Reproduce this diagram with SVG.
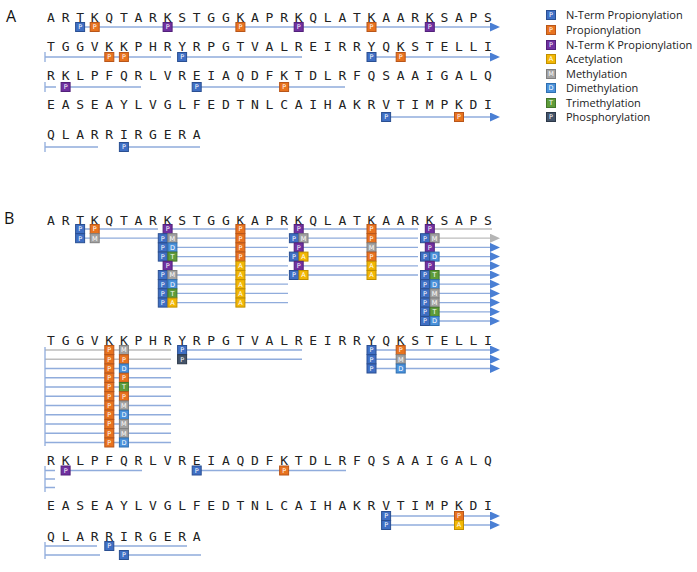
<svg xmlns="http://www.w3.org/2000/svg" xmlns:xlink="http://www.w3.org/1999/xlink" width="697" height="572" viewBox="0 0 697 572">
<style>
.seq{font-family:"DejaVu Sans Mono",monospace;font-size:13px;fill:#222;letter-spacing:6.74px}
.lbl{font-family:"Open Sans","DejaVu Sans",sans-serif;font-size:16px;fill:#111}
.leg{font-family:"Open Sans","DejaVu Sans",sans-serif;font-size:11px;fill:#222}
.bt{font-family:"DejaVu Sans",sans-serif;font-size:6.5px;fill:#fff;text-anchor:middle}
.ln{stroke:#90acdc;stroke-width:1.3;fill:none}
.lg{stroke:#bdbdbd;stroke-width:1.3;fill:none}
.ar{marker-end:url(#ab)}
.ag{marker-end:url(#ag)}
</style>
<defs>
<marker id="ab" markerUnits="userSpaceOnUse" markerWidth="10" markerHeight="9" refX="2" refY="4.5" orient="auto"><path d="M0,0 L10,4.5 L0,9 z" fill="#4a7fd4"/></marker>
<marker id="ag" markerUnits="userSpaceOnUse" markerWidth="10" markerHeight="9" refX="2" refY="4.5" orient="auto"><path d="M0,0 L10,4.5 L0,9 z" fill="#b5b5b5"/></marker>
<g id="nP"><rect x="-4.5" y="-4.5" width="9" height="9" fill="#3f6fc4" stroke="#2a4f92"/><text class="bt" y="2.4">P</text></g>
<g id="oP"><rect x="-4.5" y="-4.5" width="9" height="9" fill="#e8731f" stroke="#b8561a"/><text class="bt" y="2.4">P</text></g>
<g id="kP"><rect x="-4.5" y="-4.5" width="9" height="9" fill="#7030a0" stroke="#52207a"/><text class="bt" y="2.4">P</text></g>
<g id="aA"><rect x="-4.5" y="-4.5" width="9" height="9" fill="#f2b705" stroke="#c08f00"/><text class="bt" y="2.4">A</text></g>
<g id="mM"><rect x="-4.5" y="-4.5" width="9" height="9" fill="#a3a3a3" stroke="#7f7f7f"/><text class="bt" y="2.4">M</text></g>
<g id="dD"><rect x="-4.5" y="-4.5" width="9" height="9" fill="#4b92db" stroke="#2f6fb0"/><text class="bt" y="2.4">D</text></g>
<g id="tT"><rect x="-4.5" y="-4.5" width="9" height="9" fill="#5e9c3a" stroke="#42752a"/><text class="bt" y="2.4">T</text></g>
<g id="hP"><rect x="-4.5" y="-4.5" width="9" height="9" fill="#44546a" stroke="#2c3848"/><text class="bt" y="2.4">P</text></g>
</defs>
<rect width="697" height="572" fill="#fff"/>
<text class="lbl" x="6" y="22">A</text>
<text class="lbl" x="4" y="224">B</text>
<g id="legend">
<use href="#nP" x="551" y="15"/><text class="leg" x="566" y="19">N-Term Propionylation</text>
<use href="#oP" x="551" y="30"/><text class="leg" x="566" y="34">Propionylation</text>
<use href="#kP" x="551" y="45"/><text class="leg" x="566" y="49">N-Term K Propionylation</text>
<use href="#aA" x="551" y="59"/><text class="leg" x="566" y="63">Acetylation</text>
<use href="#mM" x="551" y="74"/><text class="leg" x="566" y="78">Methylation</text>
<use href="#dD" x="551" y="88"/><text class="leg" x="566" y="92">Dimethylation</text>
<use href="#tT" x="551" y="103"/><text class="leg" x="566" y="107">Trimethylation</text>
<use href="#hP" x="551" y="117"/><text class="leg" x="566" y="121">Phosphorylation</text>
</g>
<g id="sequences">
<text class="seq" x="47.1" y="22">ARTKQTARKSTGGKAPRKQLATKAARKSAPS</text>
<text class="seq" x="47.1" y="51">TGGVKKPHRYRPGTVALREIRRYQKSTELLI</text>
<text class="seq" x="47.1" y="80">RKLPFQRLVREIAQDFKTDLRFQSAAIGALQ</text>
<text class="seq" x="47.1" y="109">EASEAYLVGLFEDTNLCAIHAKRVTIMPKDI</text>
<text class="seq" x="47.1" y="139">QLARRIRGERA</text>
<text class="seq" x="47.1" y="225">ARTKQTARKSTGGKAPRKQLATKAARKSAPS</text>
<text class="seq" x="47.1" y="345">TGGVKKPHRYRPGTVALREIRRYQKSTELLI</text>
<text class="seq" x="47.1" y="465">RKLPFQRLVREIAQDFKTDLRFQSAAIGALQ</text>
<text class="seq" x="47.1" y="510">EASEAYLVGLFEDTNLCAIHAKRVTIMPKDI</text>
<text class="seq" x="47.1" y="541">QLARRIRGERA</text>
</g>
<g id="connectors">
<path class="ln ar" d="M80,27H492"/>
<path class="ln" d="M45,52V62M45,57H171M182,57H302M45,82V92M45,87H56M65.6,87H141M196.7,87H345M45,142V152M45,147H98M124,147H200"/>
<path class="ln ar" d="M371.5,57H492"/>
<path class="ln ar" d="M386,117H492"/>
<!-- B row1 -->
<path class="ln" d="M80,229H158M80,238.2H158"/>
<path class="ln" d="M167.6,229H288M167.6,238.2H288M167.6,247.4H288M167.6,256.6H288M167.6,265.8H288M167.6,275H288M167.6,284.2H288M167.6,293.4H288M167.6,302.6H288"/>
<path class="ln" d="M298.7,229H418M298.7,238.2H418M298.7,247.4H418M298.7,256.6H418M298.7,265.8H418M298.7,275H418"/>
<path class="lg ag" d="M429.8,229H492M429.8,238.2H492"/>
<path class="ln ar" d="M429.8,247.4H492"/><path class="ln ar" d="M429.8,256.6H492"/><path class="ln ar" d="M429.8,265.8H492"/><path class="ln ar" d="M429.8,275H492"/><path class="ln ar" d="M429.8,284.2H492"/><path class="ln ar" d="M429.8,293.4H492"/><path class="ln ar" d="M429.8,302.6H492"/><path class="ln ar" d="M429.8,311.8H492"/><path class="ln ar" d="M429.8,321H492"/>
<!-- B row2 -->
<path class="lg" d="M45,350H171M45,359.25H171"/>
<path class="ln" d="M45,347V446M45,368.5H171M45,377.75H171M45,387H171M45,396.25H171M45,405.5H171M45,414.75H171M45,424H171M45,433.25H171M45,442.5H171M182,350H302M182,359.25H302"/>
<path class="ln ar" d="M371.5,350H492"/><path class="ln ar" d="M371.5,359.25H492"/><path class="ln ar" d="M371.5,368.5H492"/>
<!-- B row3-5 -->
<path class="ln" d="M45,466V492M45,470.5H55M45,479H55M45,487.5H55M65.6,470.5H142M196.7,470.5H346"/>
<path class="ln ar" d="M386,516H492"/><path class="ln ar" d="M386,525H492"/>
<path class="ln" d="M45,542V559M45,546H97M109,546H187M45,555H100M124,555H201"/>
</g>
<g id="badgesA">
<use href="#nP" x="80.1" y="27"/><use href="#oP" x="94.7" y="27"/><use href="#kP" x="167.6" y="27"/><use href="#oP" x="240.4" y="27"/><use href="#kP" x="298.7" y="27"/><use href="#oP" x="371.5" y="27"/><use href="#kP" x="429.8" y="27"/>
<use href="#oP" x="109.3" y="57"/><use href="#oP" x="123.9" y="57"/><use href="#nP" x="182.1" y="57"/><use href="#nP" x="371.5" y="57"/><use href="#oP" x="400.7" y="57"/>
<use href="#kP" x="65.6" y="87"/><use href="#nP" x="196.7" y="87"/><use href="#oP" x="284.1" y="87"/>
<use href="#nP" x="386.1" y="117"/><use href="#oP" x="459" y="117"/>
<use href="#nP" x="123.9" y="147"/>
</g>
<g id="badgesB1">
<use href="#nP" x="80.1" y="229"/><use href="#oP" x="94.7" y="229"/><use href="#kP" x="167.6" y="229"/><use href="#oP" x="240.4" y="229"/><use href="#kP" x="298.7" y="229"/><use href="#oP" x="371.5" y="229"/><use href="#kP" x="429.8" y="229"/>
<use href="#nP" x="80.1" y="238.2"/><use href="#mM" x="94.7" y="238.2"/><use href="#nP" x="162.8" y="238.2"/><use href="#mM" x="172.4" y="238.2"/><use href="#oP" x="240.4" y="238.2"/><use href="#nP" x="293.9" y="238.2"/><use href="#mM" x="303.5" y="238.2"/><use href="#oP" x="371.5" y="238.2"/><use href="#nP" x="425" y="238.2"/><use href="#mM" x="434.6" y="238.2"/>
<use href="#nP" x="162.8" y="247.4"/><use href="#dD" x="172.4" y="247.4"/><use href="#oP" x="240.4" y="247.4"/><use href="#kP" x="298.7" y="247.4"/><use href="#mM" x="371.5" y="247.4"/><use href="#kP" x="429.8" y="247.4"/>
<use href="#nP" x="162.8" y="256.6"/><use href="#tT" x="172.4" y="256.6"/><use href="#oP" x="240.4" y="256.6"/><use href="#nP" x="293.9" y="256.6"/><use href="#aA" x="303.5" y="256.6"/><use href="#oP" x="371.5" y="256.6"/><use href="#nP" x="425" y="256.6"/><use href="#dD" x="434.6" y="256.6"/>
<use href="#kP" x="167.6" y="265.8"/><use href="#aA" x="240.4" y="265.8"/><use href="#kP" x="298.7" y="265.8"/><use href="#aA" x="371.5" y="265.8"/><use href="#kP" x="429.8" y="265.8"/>
<use href="#nP" x="162.8" y="275"/><use href="#mM" x="172.4" y="275"/><use href="#aA" x="240.4" y="275"/><use href="#nP" x="293.9" y="275"/><use href="#aA" x="303.5" y="275"/><use href="#aA" x="371.5" y="275"/><use href="#nP" x="425" y="275"/><use href="#tT" x="434.6" y="275"/>
<use href="#nP" x="162.8" y="284.2"/><use href="#dD" x="172.4" y="284.2"/><use href="#aA" x="240.4" y="284.2"/><use href="#nP" x="425" y="284.2"/><use href="#dD" x="434.6" y="284.2"/>
<use href="#nP" x="162.8" y="293.4"/><use href="#tT" x="172.4" y="293.4"/><use href="#aA" x="240.4" y="293.4"/><use href="#nP" x="425" y="293.4"/><use href="#mM" x="434.6" y="293.4"/>
<use href="#nP" x="162.8" y="302.6"/><use href="#aA" x="172.4" y="302.6"/><use href="#aA" x="240.4" y="302.6"/><use href="#nP" x="425" y="302.6"/><use href="#mM" x="434.6" y="302.6"/>
<use href="#nP" x="425" y="311.8"/><use href="#tT" x="434.6" y="311.8"/>
<use href="#nP" x="425" y="321"/><use href="#dD" x="434.6" y="321"/>
</g>
<g id="badgesB2">
<use href="#oP" x="109.3" y="350"/><use href="#mM" x="123.9" y="350"/>
<use href="#oP" x="109.3" y="359.25"/><use href="#oP" x="123.9" y="359.25"/>
<use href="#oP" x="109.3" y="368.5"/><use href="#dD" x="123.9" y="368.5"/>
<use href="#oP" x="109.3" y="377.75"/><use href="#oP" x="123.9" y="377.75"/>
<use href="#oP" x="109.3" y="387"/><use href="#tT" x="123.9" y="387"/>
<use href="#oP" x="109.3" y="396.25"/><use href="#oP" x="123.9" y="396.25"/>
<use href="#oP" x="109.3" y="405.5"/><use href="#mM" x="123.9" y="405.5"/>
<use href="#oP" x="109.3" y="414.75"/><use href="#dD" x="123.9" y="414.75"/>
<use href="#oP" x="109.3" y="424"/><use href="#mM" x="123.9" y="424"/>
<use href="#oP" x="109.3" y="433.25"/><use href="#mM" x="123.9" y="433.25"/>
<use href="#oP" x="109.3" y="442.5"/><use href="#dD" x="123.9" y="442.5"/>
<use href="#nP" x="182.1" y="350"/><use href="#hP" x="182.1" y="359.25"/>
<use href="#nP" x="371.5" y="350"/><use href="#oP" x="400.7" y="350"/>
<use href="#nP" x="371.5" y="359.25"/><use href="#mM" x="400.7" y="359.25"/>
<use href="#nP" x="371.5" y="368.5"/><use href="#dD" x="400.7" y="368.5"/>
</g>
<g id="badgesB3">
<use href="#kP" x="65.6" y="470.5"/><use href="#nP" x="196.7" y="470.5"/><use href="#oP" x="284.1" y="470.5"/>
<use href="#nP" x="386.1" y="516"/><use href="#oP" x="459" y="516"/>
<use href="#nP" x="386.1" y="525"/><use href="#aA" x="459" y="525"/>
<use href="#nP" x="109.3" y="546"/><use href="#nP" x="123.9" y="555"/>
</g>
</svg>
